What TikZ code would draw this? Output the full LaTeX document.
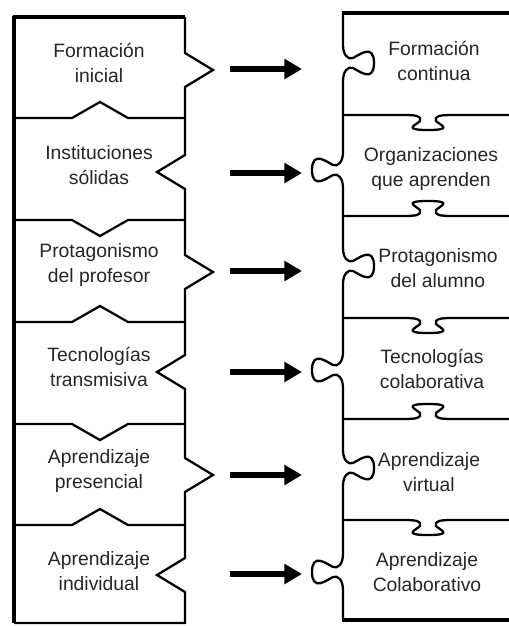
\documentclass[tikz,border=0pt]{standalone}
\usepackage{fontspec}
\setmainfont{Liberation Sans}
\usetikzlibrary{arrows.meta}

% jigsaw knob on a vertical edge: x of edge, centre y, side (+1 right, -1 left)
\newcommand{\vknob}[3]{-- (#1,{#2-18})
  .. controls (#1,{#2-8}) and ({#1+(#3)*5},{#2-3}) .. ({#1+(#3)*10},{#2-5})
  .. controls ({#1+(#3)*16},{#2-8}) and ({#1+(#3)*31},{#2-20}) .. ({#1+(#3)*31},#2)
  .. controls ({#1+(#3)*31},{#2+20}) and ({#1+(#3)*16},{#2+8}) .. ({#1+(#3)*10},{#2+5})
  .. controls ({#1+(#3)*5},{#2+3}) and (#1,{#2+8}) .. (#1,{#2+18})}
% jigsaw knob on a horizontal edge: centre x, y of edge, side (+1 down, -1 up)
\newcommand{\hknob}[3]{-- ({#1-24},#2)
  .. controls ({#1-12},#2) and ({#1-6},{#2+(#3)*1}) .. ({#1-8},{#2+(#3)*6})
  .. controls ({#1-12},{#2+(#3)*10}) and ({#1-26},{#2+(#3)*15}) .. (#1,{#2+(#3)*15})
  .. controls ({#1+26},{#2+(#3)*15}) and ({#1+12},{#2+(#3)*10}) .. ({#1+8},{#2+(#3)*6})
  .. controls ({#1+6},{#2+(#3)*1}) and ({#1+12},#2) .. ({#1+24},#2)}

\begin{document}
\begin{tikzpicture}[x=0.02cm,y=-0.02cm,
  edge/.style={line width=1.3pt},
  rim/.style={line width=2pt},
  txt/.style={align=center,text=black!85,font=\fontsize{11}{14}\selectfont},
  push/.style={line width=3pt,-{Triangle[length=10pt,width=11pt]}}]
\fill[white] (0,0) rectangle (509,626);
\useasboundingbox (0,0) rectangle (509,626);

% left column, pointed tabs
\draw[line width=2.4pt] (14,16) -- (14,623);
\draw[rim] (13,17) -- (185,17);
\draw[edge] (185,17) \foreach \yc/\sd in {70/1,172/-1,272/1,372/-1,475/1,575/-1}
  {-- (185,{\yc-17}) -- ({185+28*\sd},\yc) -- (185,{\yc+17})} -- (185,623) -- (14,623);
\foreach \yb/\sd in {118/-1,220/1,322/-1,424/1,525/-1}
  \draw[edge] (14,\yb) -- (72,\yb) -- (100,{\yb+16*\sd}) -- (128,\yb) -- (185,\yb);

% right column, round knobs
\draw[rim] (342,13) -- (509,13);
\draw[rim] (342,620) -- (509,620);
\draw[edge] (343,13) \foreach \yc/\sd in {63/1,170/-1,266/1,370/-1,468/1,572/-1}
  {\vknob{343}{\yc}{\sd}} -- (343,620);
\foreach \yb/\sd in {115/1,216/-1,318/1,419/-1,520/1}
  \draw[edge] (343,\yb) \hknob{428}{\yb}{\sd} -- (509,\yb);

% texts
\node[txt] (l1) at (99,63) {Formación\\inicial};
\node[txt] (l2) at (99,165) {Instituciones\\sólidas};
\node[txt] (l3) at (99,265) {Protagonismo\\del profesor};
\node[txt] (l4) at (99,367) {Tecnologías\\transmisiva};
\node[txt] (l5) at (99,471) {Aprendizaje\\presencial};
\node[txt] (l6) at (99,571) {Aprendizaje\\individual};
\node[txt] (r1) at (434,61) {Formación\\continua};
\node[txt] (r2) at (431,169) {Organizaciones\\que aprenden};
\node[txt] (r3) at (438,268) {Protagonismo\\del alumno};
\node[txt] (r4) at (432,369) {Tecnologías\\colaborativa};
\node[txt] (r5) at (429,472) {Aprendizaje\\virtual};
\node[txt] (r6) at (427,572) {Aprendizaje\\Colaborativo};

% arrows
\foreach \i/\ya in {1/69,2/173,3/271,4/372,5/475,6/574} {
  \coordinate (a\i) at (230,\ya);
  \coordinate (b\i) at (302,\ya);
  \draw[push] (a\i) -- (b\i);
}
\end{tikzpicture}
\end{document}
